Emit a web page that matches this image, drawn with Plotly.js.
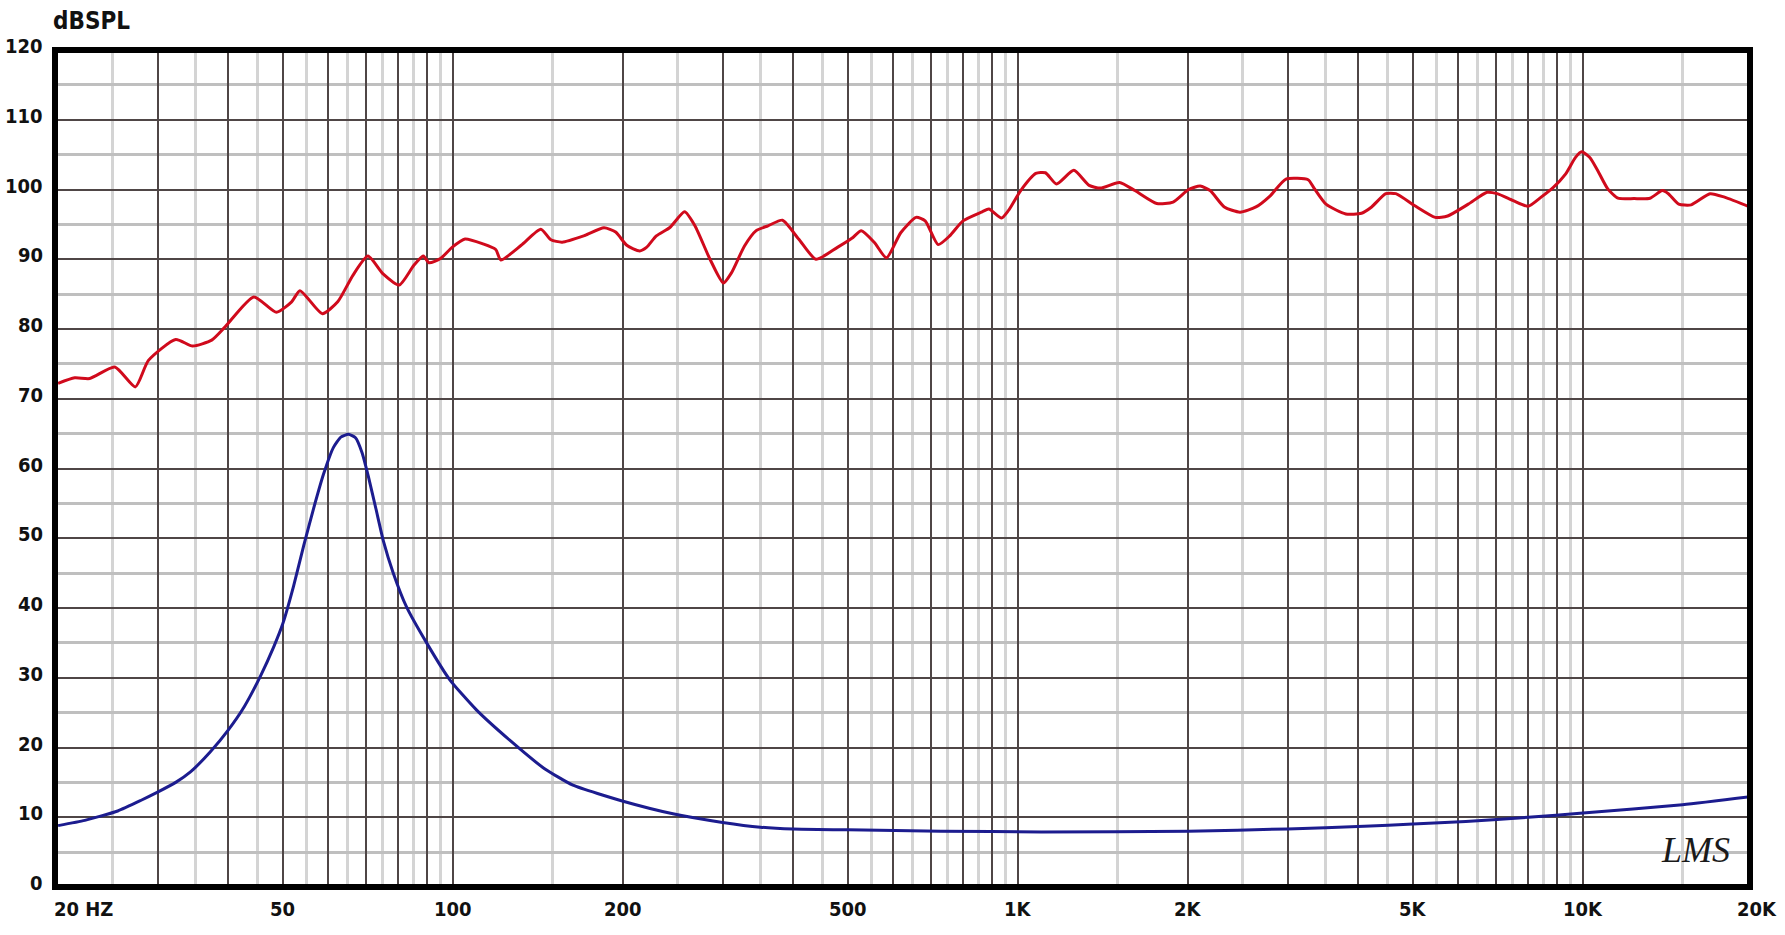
<!DOCTYPE html>
<html><head><meta charset="utf-8">
<script src="https://cdn.plot.ly/plotly-3.0.1.min.js"></script>
<style>html,body{margin:0;padding:0;background:#fff}#chart{width:1785px;height:935px}</style>
</head><body><div id="chart"></div>
<script>
// SPL response (red)
const splFreq = [20,21.4,22.75,25.2,27.4,28.9,32.3,34.6,37.4,39.5,44.4,48.7,51.8,53.6,58.7,62.5,66.5,70.7,75.2,80.3,85.2,88.6,90.7,95,99.6,105,113,119,121.5,132,143,149,156,171,185,194,203,214,220,229,242,257,268,285,301,311,328,344,361,383,409,439,479,508,528,557,585,620,660,685,722,757,799,864,888,935,962,1011,1075,1118,1170,1255,1336,1399,1512,1610,1760,1881,2004,2101,2188,2318,2471,2637,2795,2980,3262,3341,3508,3802,4055,4225,4476,4663,5030,5476,5758,6264,6764,7047,7526,8000,8430,8860,9311,9699,9942,10280,10620,11060,11530,12310,13140,13810,14160,14770,15540,16780,17800,20000];
const splDb = [72.2,73.0,72.9,74.55,71.7,75.5,78.5,77.55,78.4,80.3,84.6,82.4,83.9,85.5,82.2,83.9,87.7,90.45,87.9,86.3,89.1,90.45,89.5,90.1,91.7,92.9,92.2,91.4,89.9,92.0,94.3,92.8,92.45,93.4,94.5,93.9,92.0,91.2,91.7,93.35,94.55,96.8,94.8,90.0,86.6,88.05,91.9,94.1,94.8,95.6,92.9,90.0,91.7,93.0,94.1,92.4,90.2,93.8,96.0,95.5,92.1,93.35,95.5,96.8,97.2,95.9,97.0,99.85,102.3,102.4,100.8,102.75,100.6,100.2,101.0,99.85,98.0,98.2,100.0,100.5,99.85,97.5,96.75,97.5,99.1,101.5,101.4,100.2,97.9,96.5,96.6,97.5,99.4,99.4,97.7,96.0,96.2,97.9,99.6,99.4,98.4,97.6,98.9,100.3,102.2,104.6,105.4,104.6,102.7,100.1,98.75,98.7,98.75,99.85,99.4,97.9,97.8,99.4,98.9,97.3];
// Impedance (blue)
const impFreq = [20,22.3,25.5,28,30,32.3,34.3,37.2,40,42.7,45.6,48.2,50,52.2,54.4,56.6,59,61.4,63.3,65.3,67.2,69,70.8,73,75.3,78.4,82.7,89.8,98.7,110,126,145,163,200,245,300,350,400,500,730,1100,2000,3000,4100,5000,6200,8000,10000,15000,20000];
const impDb = [8.8,9.55,10.9,12.4,13.6,15.0,16.5,19.4,22.5,25.85,30.2,34.5,37.8,43.1,48.9,54.15,59.2,63.0,64.5,64.9,64.4,62.3,58.9,54.3,49.6,45.0,40.2,35.0,29.7,25.4,21.05,17.0,14.6,12.3,10.5,9.26,8.57,8.3,8.2,8.0,7.9,8.0,8.33,8.7,9.05,9.4,10.0,10.6,11.8,13.0];

const xTickVals = [20,50,100,200,500,1000,2000,5000,10000,20000];
const xTickText = ['20 HZ','50','100','200','500','1K','2K','5K','10K','20K'];
const yTickVals = [0,10,20,30,40,50,60,70,80,90,100,110,120];
const yTickText = ['0','10','20','30','40','50','60','70','80','90','100','110','120'];
const majorFreqs = [30,40,50,60,70,80,90,100,200,300,400,500,600,700,800,900,1000,2000,3000,4000,5000,6000,7000,8000,9000,10000];
const minorFreqs = [25,35,45,55,65,75,85,95,150,250,350,450,550,650,750,850,950,1500,2500,3500,4500,5500,6500,7500,8500,9500,15000];
const yMinorVals = [5,15,25,35,45,55,65,75,85,95,105,115];

const xOff = 0.0055;
const xLo = Math.log10(20) - xOff, xHi = Math.log10(20000) - xOff;
const lblFont = {family:'DejaVu Sans Condensed', size:20, color:'#111', weight:700};
const annotations = xTickVals.map((v,i)=>{
  const last = i === xTickVals.length-1;
  // keep edge labels inside the drawable range by pinning them to the paper edges
  const lv = Math.log10(v);
  const inside = lv >= xLo && lv <= xHi;
  return {
    x: inside ? lv : (lv > xHi ? 1 : 0), xref: inside ? 'x' : 'paper',
    y:-0.0263, yref:'paper', text: xTickText[i], showarrow:false,
    xanchor: i===0 ? 'left' : 'center', xshift: i===0 ? -6 : (last ? 7 : 0),
    yanchor:'middle', font: lblFont
  };
});
yTickVals.forEach((v,i)=>annotations.push({
  x:0, xref:'paper', y:v, yref:'y', text:yTickText[i], showarrow:false,
  xanchor:'right', xshift:-10, yanchor:'middle', yshift:4, font: lblFont
}));
annotations.push({x:0.9676, y:0.044, xref:'paper', yref:'paper', text:'<i>LMS</i>', showarrow:false,
  xanchor:'center', yanchor:'middle', font:{family:'Liberation Serif', size:36, color:'#1a1a1a'}});

const traces = [
  {x: impFreq, y: impDb, type:'scatter', mode:'lines', line:{color:'#1c1c8f', width:3, shape:'spline', smoothing:0.5}, hoverinfo:'skip'},
  {x: splFreq, y: splDb, type:'scatter', mode:'lines', line:{color:'#d00a1c', width:3, shape:'spline', smoothing:0.6}, hoverinfo:'skip'}
];

const layout = {
  width:1785, height:935,
  margin:{l:55, r:35, t:50, b:48, autoexpand:false},
  paper_bgcolor:'#fff', plot_bgcolor:'#fff',
  showlegend:false,
  title:{text:'dBSPL', x:53/1785, xanchor:'left', xref:'container', y:1-21/935, yanchor:'middle', yref:'container',
    font:{family:'DejaVu Sans Condensed', size:24, color:'#111', weight:700}},
  xaxis:{type:'log', range:[xLo, xHi], tickmode:'array', tickvals:majorFreqs,
    showticklabels:false, ticks:'', showgrid:true, gridcolor:'#4f4646', gridwidth:2, zeroline:false, showline:false,
    automargin:false,
    minor:{tickmode:'array', tickvals:minorFreqs, showgrid:true, gridcolor:'#d4d4d4', gridwidth:3, ticks:''}},
  yaxis:{range:[0,120], tickmode:'array', tickvals:yTickVals, showticklabels:false, ticks:'', showgrid:true,
    gridcolor:'#4f4646', gridwidth:2, zeroline:false, showline:false, automargin:false,
    minor:{tickmode:'array', tickvals:yMinorVals, showgrid:true, gridcolor:'#bfbfbf', gridwidth:3, ticks:''}},
  shapes:[{type:'rect', xref:'paper', yref:'paper', x0:0, x1:1, y0:0, y1:1, line:{color:'#000', width:6}, fillcolor:'rgba(0,0,0,0)'}],
  annotations: annotations
};
Plotly.newPlot('chart', traces, layout, {staticPlot:true, displayModeBar:false});
</script>
</body></html>
